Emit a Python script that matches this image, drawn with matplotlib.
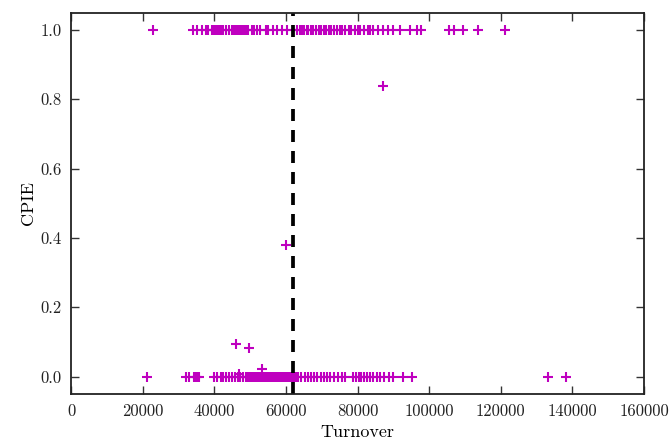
import matplotlib
matplotlib.use("Agg")
import matplotlib.pyplot as plt

plt.rcParams['font.family'] = ['cmr10', 'DejaVu Serif']
plt.rcParams['axes.formatter.use_mathtext'] = True
plt.rcParams['mathtext.fontset'] = 'cm'

# Points at CPIE = 1.0
top_x = [22800, 34000, 35100, 36500, 37700, 38300, 39300, 39800, 40300, 40800, 41300,
         41800, 42500, 43300, 44000, 45000, 45300, 45800, 46300, 46800, 47300, 47800,
         48300, 48800, 49500, 50500, 51200, 51900, 52800, 54400, 55000, 56400, 57400,
         58800, 60200, 61900, 63000, 64000, 64600, 65100, 65800, 66300, 67000, 67700,
         68400, 69100, 69800, 70500, 71200, 71900, 72600, 73300, 74200, 75000, 75800,
         76600, 77500, 78300, 79200, 80000, 80800, 81800, 82800, 83600, 84400, 85800,
         87200, 88400, 89800, 91900, 94700, 96600, 97700, 105600, 107000, 109500,
         113700, 121200]
top_y = [1.0] * len(top_x)

# Points at CPIE = 0.0
bot_x = [21100, 32000, 33000, 34200, 34800, 35300, 35800, 39800, 40800, 41800, 42500,
         43300, 44200, 45000, 45800, 46500, 47200, 48000, 48800, 49300, 49800, 50300,
         50800, 51300, 51800, 52300, 52800, 53300, 53800, 54300, 54800, 55300, 55800,
         56300, 56800, 57300, 57800, 58300, 58800, 59300, 59800, 60300, 60800, 61300,
         61800, 62300, 62800, 63500, 64300, 65200, 66100, 67000, 67900, 68800, 69700,
         70500, 71500, 72300, 73300, 74500, 75800, 76600, 78800, 79600, 80300, 81000,
         81800, 82600, 83500, 84400, 85300, 86200, 87400, 88700, 90000, 92700, 95100,
         133200, 138300]
bot_y = [0.0] * len(bot_x)

# Intermediate points
mid_x = [46000, 49700, 53400, 46800, 60000, 87000]
mid_y = [0.095, 0.083, 0.023, 0.008, 0.379, 0.838]

threshold = 62000

xs = top_x + bot_x + mid_x
ys = top_y + bot_y + mid_y

fig = plt.figure(figsize=(6.72, 4.42), dpi=100)
ax = fig.add_axes([0.1057, 0.1086, 0.8527, 0.8631])

ax.plot(xs, ys, linestyle='none', marker='+', color='#bf00bf',
        markersize=6.5, markeredgewidth=1.5)
ax.axvline(threshold, color='black', linewidth=2.7, dashes=(3.2, 2.4))

ax.set_xlim(0, 160000)
ax.set_ylim(-0.05, 1.05)
ax.set_xticks([0, 20000, 40000, 60000, 80000, 100000, 120000, 140000, 160000])
ax.set_yticks([0.0, 0.2, 0.4, 0.6, 0.8, 1.0])
ax.set_xticklabels(['0', '20000', '40000', '60000', '80000', '100000', '120000',
                    '140000', '160000'])
ax.set_yticklabels(['0.0', '0.2', '0.4', '0.6', '0.8', '1.0'])
ax.tick_params(direction='in', top=True, right=True, length=5.5, width=1.0,
               labelsize=12, pad=7, colors='#333333', labelcolor='#222222')
for s in ax.spines.values():
    s.set_linewidth(1.3)
    s.set_color('#222222')

ax.set_xlabel('Turnover', fontsize=13, labelpad=4)
ax.set_ylabel('CPIE', fontsize=13, labelpad=3)

fig.savefig('out.png', dpi=100)
